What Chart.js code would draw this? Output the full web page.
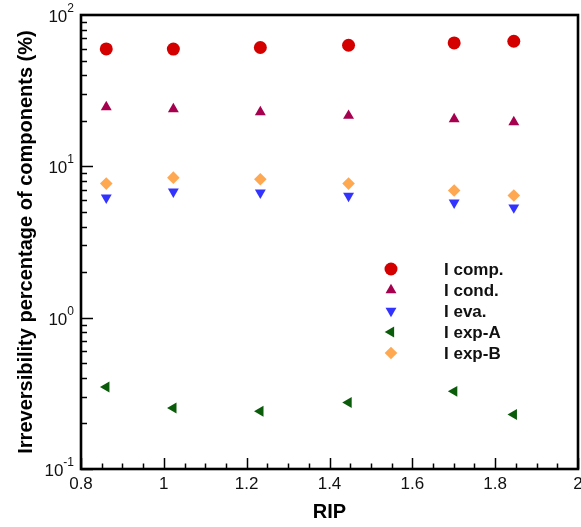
<!DOCTYPE html>
<html>
<head>
<meta charset="utf-8">
<script src="https://cdn.jsdelivr.net/npm/chart.js@4/dist/chart.umd.min.js"></script>
<style>
body{margin:0;background:#fff}
</style>
</head>
<body>
<canvas id="chart" width="581" height="527"></canvas>
<script>
// data
const rip = [0.861, 1.023, 1.233, 1.446, 1.701, 1.845]
const iComp = [59.7, 59.5, 61.0, 63.1, 65.4, 67.1]
const iCond = [24.6, 23.9, 22.8, 21.6, 20.5, 19.6]
const iEva = [6.21, 6.81, 6.69, 6.38, 5.76, 5.34]
const iExpA = [0.348, 0.253, 0.241, 0.275, 0.326, 0.229]
const iExpB = [7.69, 8.42, 8.21, 7.69, 6.92, 6.41]
const seriesNames = ["I comp.", "I cond.", "I eva.", "I exp-A", "I exp-B"]

const xTicks = [0.8, 1, 1.2, 1.4, 1.6, 1.8, 2]
const xTickLabels = ["0.8", "1", "1.2", "1.4", "1.6", "1.8", "2"]
const yTicks = [0.1, 1, 10, 100]
const yTickBase = "10"
const yTickExp = ["-1", "0", "1", "2"]

const fontFam = '"Liberation Sans", Arial, Helvetica, sans-serif'

function pts(vals){
  return vals.map((v,i)=>({x:rip[i], y:v}))
}

const styles = [
  {color:"#d40000", shape:"circle", r:6.5, rot:0},
  {color:"#a6004f", shape:"triangle", r:6.3, rot:0},
  {color:"#3333ff", shape:"triangle", r:6.3, rot:180},
  {color:"#0a5c0a", shape:"triangle", r:6.3, rot:270},
  {color:"#ffa852", shape:"rectRot", r:6.3, rot:0}
]
const values = [iComp, iCond, iEva, iExpA, iExpB]

const datasets = values.map((v,i)=>({
  label: seriesNames[i],
  data: pts(v),
  pointStyle: styles[i].shape,
  rotation: styles[i].rot,
  pointRadius: styles[i].r,
  pointHoverRadius: styles[i].r,
  pointBackgroundColor: styles[i].color,
  pointBorderColor: styles[i].color,
  pointBorderWidth: 0,
  showLine: false
}))

// frame, inward ticks, y labels with exponents
const framePlugin = {
  id:"frame",
  afterDraw(chart){
    const ctx = chart.ctx
    const a = chart.chartArea
    const xs = chart.scales.x, ys = chart.scales.y
    ctx.save()
    ctx.strokeStyle = "#000"
    ctx.lineWidth = 1.5
    for(let k=0;k<=24;k++){
      const v = 0.8 + k*0.05
      const px = Math.round(xs.getPixelForValue(v)) + 0.5
      const len = (k%4===0) ? 11 : 5.5
      ctx.beginPath(); ctx.moveTo(px, a.bottom); ctx.lineTo(px, a.bottom-len); ctx.stroke()
    }
    for(let d=-1; d<=1; d++){
      for(let m=1;m<=9;m++){
        const v = m*Math.pow(10,d)
        const py = Math.round(ys.getPixelForValue(v)) + 0.5
        const len = m===1 ? 12 : 6
        ctx.beginPath(); ctx.moveTo(a.left, py); ctx.lineTo(a.left+len, py); ctx.stroke()
      }
    }
    ctx.lineWidth = 2.6
    ctx.strokeRect(a.left, a.top, a.right-a.left, a.bottom-a.top)

    // y tick labels: 10 with raised exponent
    ctx.fillStyle = "#111"
    ctx.textBaseline = "alphabetic"
    ctx.textAlign = "left"
    const rightEdge = a.left - 7
    yTicks.forEach((v,i)=>{
      const py = ys.getPixelForValue(v)
      ctx.font = "17px " + fontFam
      const wb = ctx.measureText(yTickBase).width
      ctx.font = "12px " + fontFam
      const we = ctx.measureText(yTickExp[i]).width
      const x0 = rightEdge - wb - we
      ctx.font = "17px " + fontFam
      ctx.fillText(yTickBase, x0, py + 7)
      ctx.font = "12px " + fontFam
      ctx.fillText(yTickExp[i], x0 + wb, py - 3)
    })
    ctx.restore()
  }
}

// legend inside the plot
const legendPlugin = {
  id:"inLegend",
  afterDraw(chart){
    const ctx = chart.ctx
    ctx.save()
    ctx.font = "bold 17px " + fontFam
    ctx.textBaseline = "middle"
    ctx.textAlign = "left"
    seriesNames.forEach((name,i)=>{
      const y = 269 + i*21
      ctx.fillStyle = styles[i].color
      Chart.helpers.drawPoint(ctx, {pointStyle:styles[i].shape, rotation:styles[i].rot, radius:styles[i].r, borderWidth:0}, 391, y)
      ctx.fillStyle = "#111"
      ctx.fillText(name, 444, y + 1)
    })
    ctx.restore()
  }
}

new Chart(document.getElementById("chart"), {
  type:"scatter",
  data:{datasets:datasets},
  options:{
    responsive:false,
    animation:false,
    events:[],
    layout:{autoPadding:false, padding:{top:15, right:3, left:0, bottom:0}},
    plugins:{legend:{display:false}, tooltip:{enabled:false}},
    scales:{
      x:{
        type:"linear",
        min:0.8, max:2,
        grid:{display:false},
        border:{display:false},
        afterFit(s){ s.height = 58; s.paddingLeft = 0; s.paddingRight = 0 },
        afterBuildTicks(s){ s.ticks = xTicks.map(v=>({value:v})) },
        ticks:{
          autoSkip:false, maxRotation:0,
          padding:-3,
          color:"#111",
          font:{family:fontFam, size:17},
          callback:(v,i)=>xTickLabels[i]
        },
        title:{display:true, text:"RIP", color:"#000", padding:{top:0,bottom:3},
          font:{family:fontFam, size:20, weight:"bold"}}
      },
      y:{
        type:"logarithmic",
        min:0.1, max:100,
        grid:{display:false},
        border:{display:false},
        afterFit(s){ s.width = 81; s.paddingTop = 0; s.paddingBottom = 0 },
        afterBuildTicks(s){ s.ticks = yTicks.map(v=>({value:v})) },
        ticks:{display:false},
        title:{display:true, text:"Irreversibility percentage of components (%)", color:"#000",
          padding:{top:14,bottom:0},
          font:{family:fontFam, size:20, weight:"bold"}}
      }
    }
  },
  plugins:[framePlugin, legendPlugin]
})
</script>
</body>
</html>
